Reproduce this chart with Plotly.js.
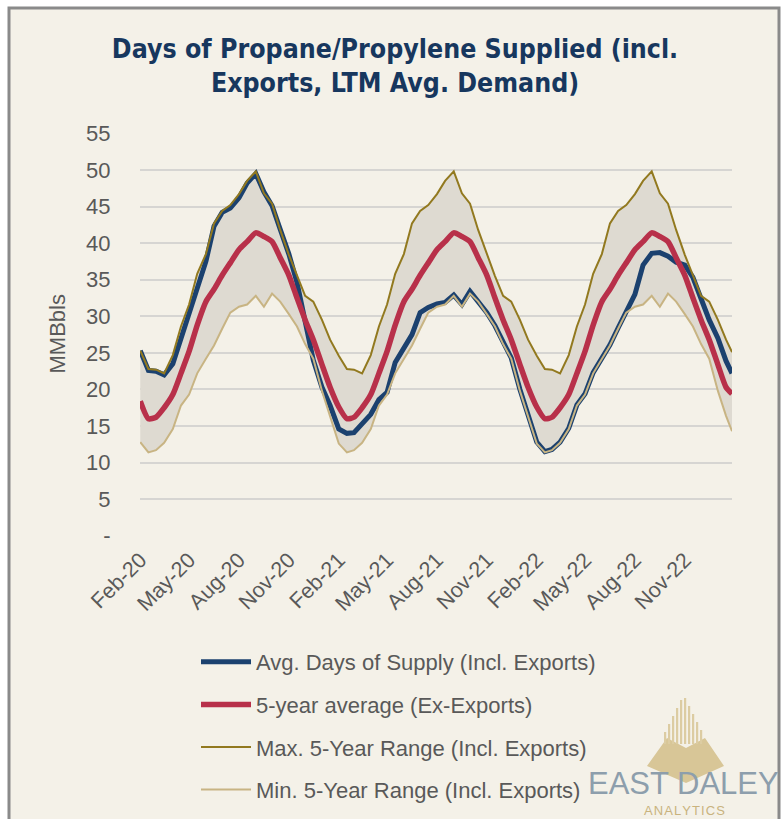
<!DOCTYPE html>
<html>
<head>
<meta charset="utf-8">
<script src="https://cdn.plot.ly/plotly-3.0.1.min.js"></script>
<style>html,body{margin:0;padding:0;background:#fff;}#chart{width:781px;height:819px;}</style>
</head>
<body>
<div id="chart"></div>
<script>
// ---------- DATA (semi-monthly readings: 1st and 16th of each month, Feb-20 .. Jan-23, plus last point) ----------
const startYear = 2020, startMonth = 2, nMonths = 36;
const lastDate = '2023-01-27';

// Max. 5-Year Range (Incl. Exports)
const maxRange = [
  25.3, 22.8, 22.7, 22.2, 24.7, 28.6, 31.6, 35.8, 38.5, 42.7, 44.4, 45.2, 46.7, 48.5, 49.8, 46.8, 45.4, 41.8, 38.4, 35.5, 32.8, 32.0, 29.5, 26.8,
  24.6, 22.8, 22.7, 22.2, 24.7, 28.6, 31.6, 35.8, 38.5, 42.7, 44.4, 45.2, 46.7, 48.5, 49.8, 46.8, 45.4, 41.8, 38.4, 35.5, 32.8, 32.0, 29.5, 26.8,
  24.6, 22.8, 22.7, 22.2, 24.7, 28.6, 31.6, 35.8, 38.5, 42.7, 44.4, 45.2, 46.7, 48.5, 49.8, 46.8, 45.4, 41.8, 38.4, 35.5, 32.8, 32.0, 29.5, 26.8,
  25.1
];
// Min. 5-Year Range (Incl. Exports)
const minRange = [
  12.8, 11.4, 11.7, 12.7, 14.6, 17.8, 19.3, 22.2, 24.2, 26.0, 28.3, 30.5, 31.3, 31.6, 32.8, 31.3, 33.1, 32.0, 30.3, 28.6, 26.2, 24.2, 19.8, 16.4,
  12.6, 11.4, 11.7, 12.7, 14.6, 17.8, 19.3, 22.2, 24.2, 26.0, 28.3, 30.5, 31.3, 31.6, 32.8, 31.3, 33.1, 32.0, 30.3, 28.6, 26.2, 24.2, 19.8, 16.4,
  12.6, 11.4, 11.7, 12.7, 14.6, 17.8, 19.3, 22.2, 24.2, 26.0, 28.3, 30.5, 31.3, 31.6, 32.8, 31.3, 33.1, 32.0, 30.3, 28.6, 26.2, 24.2, 19.8, 16.4,
  14.3
];
// 5-year average (Ex-Exports)
const fiveYrAvg = [
  18.4, 16.0, 16.2, 17.5, 19.3, 22.2, 25.2, 28.8, 32.0, 33.7, 35.6, 37.3, 39.1, 40.2, 41.4, 40.9, 40.2, 38.0, 35.6, 32.5, 29.5, 26.8, 23.4, 20.3,
  17.6, 16.0, 16.2, 17.5, 19.3, 22.2, 25.2, 28.8, 32.0, 33.7, 35.6, 37.3, 39.1, 40.2, 41.4, 40.9, 40.2, 38.0, 35.6, 32.5, 29.5, 26.8, 23.4, 20.3,
  17.6, 16.0, 16.2, 17.5, 19.3, 22.2, 25.2, 28.8, 32.0, 33.7, 35.6, 37.3, 39.1, 40.2, 41.4, 40.9, 40.2, 38.0, 35.6, 32.5, 29.5, 26.8, 23.4, 20.3,
  19.4
];
// Avg. Days of Supply (Incl. Exports)
const avgSupply = [
  25.3, 22.6, 22.5, 22.0, 23.5, 27.0, 30.3, 34.3, 37.5, 42.3, 44.2, 44.8, 46.2, 48.2, 49.5, 47.0, 45.1, 41.9, 38.5, 34.6, 29.0, 24.0, 20.3, 17.8,
  14.6, 14.0, 14.1, 15.3, 16.6, 18.6, 19.6, 23.7, 25.8, 27.5, 30.5, 31.2, 31.7, 31.9, 32.9, 31.6, 33.4, 32.1, 30.5, 28.7, 26.4, 24.3, 20.0, 16.5,
  12.8, 11.5, 11.8, 12.8, 14.7, 17.9, 19.4, 22.3, 24.3, 26.1, 28.4, 30.6, 33.0, 37.0, 38.6, 38.7, 38.2, 37.4, 37.0, 35.3, 32.5, 29.5, 27.0, 23.9,
  22.2
];

const seriesNames = [
  'Avg. Days of Supply (Incl. Exports)',
  '5-year average (Ex-Exports)',
  'Max. 5-Year Range (Incl. Exports)',
  'Min. 5-Year Range (Incl. Exports)'
];
const yTickVals = [0, 5, 10, 15, 20, 25, 30, 35, 40, 45, 50, 55];
const yTickText = ['-', '5', '10', '15', '20', '25', '30', '35', '40', '45', '50', '55'];
const yTitle = 'MMBbls';

// dates (category x positions)
const dates = [];
for (let i = 0; i < nMonths; i++) {
  const m0 = startMonth - 1 + i;
  const y = startYear + Math.floor(m0 / 12);
  const mm = String(m0 % 12 + 1).padStart(2, '0');
  dates.push(`${y}-${mm}-01`, `${y}-${mm}-16`);
}
dates.push(lastDate);

// ---------- STYLE ----------
const W = 781, H = 819;
const M = {l: 140, r: 49, t: 133, b: 283, autoexpand: false};
const PW = W - M.l - M.r, PH = H - M.t - M.b;
const px = x => (x - M.l) / PW;
const py = y => (H - M.b - y) / PH;

const C = {
  blue: '#1b416f', red: '#b8304a', gold: '#92791f', tan: '#c8b483',
  fill: '#dedad1', bg: '#f4f1e8', grid: '#d6d5d2', text: '#595959', title: '#17375e'
};
const FONT = 'Liberation Sans, Arial, sans-serif';

const traces = [
  {x: dates, y: maxRange, type: 'scatter', mode: 'lines', line: {width: 0, color: C.fill},
   showlegend: false, hoverinfo: 'skip'},
  {x: dates, y: minRange, type: 'scatter', mode: 'lines', line: {width: 0, color: C.fill},
   fill: 'tonexty', fillcolor: C.fill, showlegend: false, hoverinfo: 'skip'},
  {x: dates, y: avgSupply, type: 'scatter', mode: 'lines', name: seriesNames[0],
   line: {color: C.blue, width: 5}, legendgroup: 'a'},
  {x: dates, y: fiveYrAvg, type: 'scatter', mode: 'lines', name: seriesNames[1],
   line: {color: C.red, width: 5.5, shape: 'spline', smoothing: 0.6}, legendgroup: 'b'},
  {x: dates, y: maxRange, type: 'scatter', mode: 'lines', name: seriesNames[2],
   line: {color: C.gold, width: 2}, legendgroup: 'c'},
  {x: dates, y: minRange, type: 'scatter', mode: 'lines', name: seriesNames[3],
   line: {color: C.tan, width: 2}, legendgroup: 'd'}
];

// logo pieces (decorative)
const pyr = [[647,766],[667,738],[686,748],[705,738],[724,766],[686,783]];
const pyrPath = 'M' + pyr.map(p => px(p[0]) + ',' + py(p[1])).join(' L') + ' Z';
const barXs = [664, 668, 672, 676, 680, 684, 688, 692, 696, 700];
const barTops = [732, 724, 716, 708, 700, 698, 706, 714, 722, 730];
const barShapes = barXs.map((bx, i) => ({
  type: 'rect', xref: 'paper', yref: 'paper', layer: 'above',
  x0: px(bx), x1: px(bx + 2.2), y0: py(744), y1: py(barTops[i]),
  fillcolor: '#dccca2', line: {width: 0}
}));

const layout = {
  width: W, height: H, margin: M,
  paper_bgcolor: '#ffffff', plot_bgcolor: 'rgba(0,0,0,0)',
  font: {family: FONT, color: C.text},
  title: {
    text: 'Days of Propane/Propylene Supplied (incl.<br>Exports, LTM Avg. Demand)',
    font: {family: 'DejaVu Sans Condensed, Liberation Sans Narrow, sans-serif', size: 26.5, weight: 'bold', color: C.title},
    xref: 'container', x: 395 / W, xanchor: 'center',
    yref: 'container', y: 1 - 58 / H, yanchor: 'top'
  },
  xaxis: {
    type: 'date', range: ['2020-01-31 12:00', lastDate],
    tick0: '2020-02-01', dtick: 'M3', tickformat: '%b-%y', tickangle: -45,
    showgrid: false, zeroline: false, showline: false,
    ticks: 'outside', ticklen: 2, tickcolor: 'rgba(0,0,0,0)',
    tickfont: {family: FONT, size: 21.5, color: C.text}
  },
  yaxis: {
    range: [-0.03, 55.05], tickmode: 'array', tickvals: yTickVals, ticktext: yTickText,
    showgrid: true, gridcolor: C.grid, gridwidth: 2, zeroline: false, showline: false,
    ticks: 'outside', ticklen: 24, tickcolor: 'rgba(0,0,0,0)',
    tickfont: {family: FONT, size: 22, color: C.text}
  },
  legend: {
    xref: 'container', yref: 'container', x: 196 / W, xanchor: 'left', y: 1 - 641 / H, yanchor: 'top',
    bgcolor: 'rgba(0,0,0,0)', font: {family: FONT, size: 22, color: C.text},
    tracegroupgap: 11, itemwidth: 50
  },
  shapes: [
    {type: 'rect', xref: 'paper', yref: 'paper', layer: 'below',
     x0: px(9), x1: px(779), y0: py(860), y1: py(8),
     fillcolor: C.bg, line: {color: '#8a8a8a', width: 3}},
    {type: 'path', xref: 'paper', yref: 'paper', layer: 'above', path: pyrPath,
     fillcolor: '#d8c697', line: {width: 0}},
    ...barShapes
  ],
  annotations: [
    {xref: 'paper', yref: 'paper', x: px(57), y: 0.5, xanchor: 'center', yanchor: 'middle',
     text: yTitle, textangle: -90, showarrow: false, font: {family: FONT, size: 22, color: C.text}},
    {xref: 'paper', yref: 'paper', x: px(683), y: py(783), xanchor: 'center', yanchor: 'middle',
     text: 'EAST DALEY', showarrow: false, font: {family: FONT, size: 31, color: '#8d9eac'}},
    {xref: 'paper', yref: 'paper', x: px(684), y: py(810), xanchor: 'center', yanchor: 'middle',
     text: 'A\u200aN\u200aA\u200aL\u200aY\u200aT\u200aI\u200aC\u200aS', showarrow: false,
     font: {family: FONT, size: 13, color: '#c9b37e'}}
  ]
};

Plotly.newPlot('chart', traces, layout, {displayModeBar: false, staticPlot: true});
</script>
</body>
</html>
